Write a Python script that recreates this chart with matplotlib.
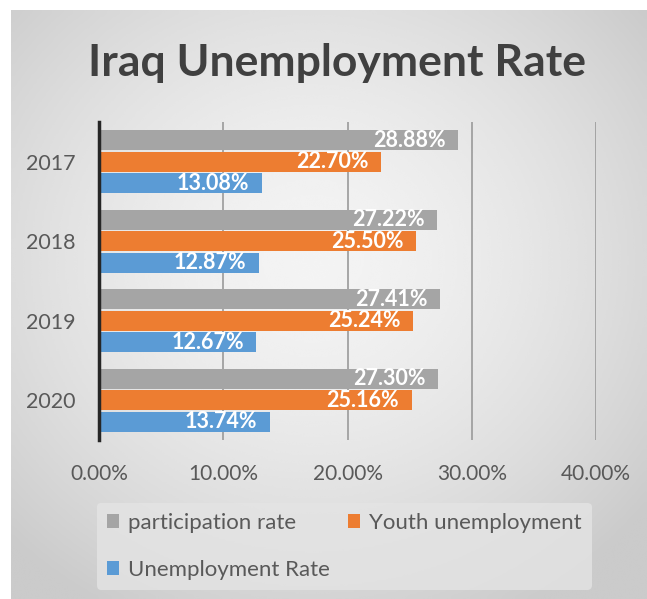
import numpy as np
import matplotlib.pyplot as plt

# ----------------------------
# Data
# ----------------------------
years = ["2017", "2018", "2019", "2020"]
participation = [28.88, 27.22, 27.41, 27.30]
youth = [22.70, 25.50, 25.24, 25.16]
unemployment = [13.08, 12.87, 12.67, 13.74]
series_names = ["participation rate", "Youth unemployment", "Unemployment Rate"]
xticks = [0, 10, 20, 30, 40]

colors = ["#A5A5A5", "#ED7D31", "#5B9BD5"]
font = "Lato"

W, H = 647, 599
fig = plt.figure(figsize=(W / 100, H / 100), dpi=100)
fig.patch.set_facecolor("white")

# ----------------------------
# Gradient background
# ----------------------------
bg = fig.add_axes([11 / W, 0, 1 - 11 / W, 1 - 10 / H], zorder=-10)
gx, gy = np.meshgrid(np.linspace(-1, 1, 300), np.linspace(-1, 1, 300))
r = np.sqrt((gx + 0.05) ** 2 + (gy + 0.15) ** 2)
shade = 0.955 - 0.16 * np.clip(r / 1.35, 0, 1) ** 1.6
bg.imshow(shade, cmap="gray", vmin=0, vmax=1, aspect="auto",
          extent=[0, 1, 0, 1], interpolation="bicubic")
bg.axis("off")

# ----------------------------
# Bars
# ----------------------------
ax = fig.add_axes([99 / W, 1 - 440 / H, (596 - 99) / W, (440 - 122) / H])
ax.set_facecolor("none")

y = np.arange(len(years))
step = 0.27
h = 0.25
handles = []
for i, (vals, c) in enumerate(zip([participation, youth, unemployment], colors)):
    pos = y + (i - 1) * step
    bars = ax.barh(pos, vals, height=h, color=c, label=series_names[i], zorder=3)
    handles.append(bars)
    for b, v in zip(bars, vals):
        ax.text(v - 1.0, b.get_y() + h / 2, f"{v:.2f}%", ha="right", va="center",
                color="white", fontsize=15.5, fontweight="bold", family=font, zorder=4)

ax.set_xlim(0, 40)
ax.set_ylim(3.5, -0.5)
ax.set_yticks(y)
ax.set_yticklabels(years, fontsize=15.5, color="#595959", family=font)
ax.set_xticks(xticks)
ax.set_xticklabels([f"{t:.2f}%" for t in xticks], fontsize=15, color="#595959", family=font)
ax.tick_params(axis="y", length=0, pad=17)
ax.tick_params(axis="x", length=0, pad=17)
ax.grid(axis="x", color="#9a9a9a", linewidth=1.2, zorder=0)
ax.set_axisbelow(True)
for s in ["top", "right", "bottom"]:
    ax.spines[s].set_visible(False)
ax.spines["left"].set_color("#262626")
ax.spines["left"].set_linewidth(2.5)
ax.spines["left"].set_zorder(5)

# ----------------------------
# Title and legend
# ----------------------------
fig.text(337 / W, 1 - 63 / H, "Iraq Unemployment Rate", ha="center", va="center",
         fontsize=32, fontweight="bold", color="#404040", family=font)

# column-major fill -> reorder so rows read participation, Youth / Unemployment
order = [0, 2, 1]
leg = fig.legend([handles[k] for k in order], [series_names[k] for k in order],
                 loc="upper left", bbox_to_anchor=(97 / W, 1 - 503 / H), ncol=2,
                 frameon=True, handlelength=0.55, handleheight=0.55,
                 handletextpad=0.4, columnspacing=0.8, labelspacing=1.2,
                 borderpad=0.45, borderaxespad=0, prop={"family": font, "size": 16})
leg.get_frame().set_facecolor("#e4e4e4")
leg.get_frame().set_edgecolor("none")
leg.get_frame().set_alpha(0.8)
for t in leg.get_texts():
    t.set_color("#595959")

plt.savefig("out.png", dpi=100)
plt.close()
